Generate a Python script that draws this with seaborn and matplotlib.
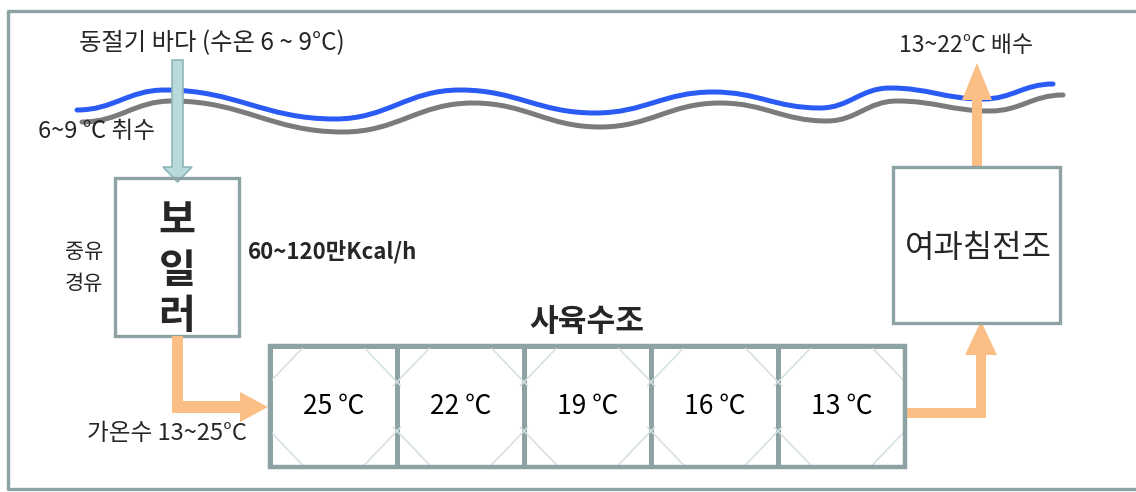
import numpy as np
import seaborn as sns
import matplotlib
matplotlib.use("Agg")
import matplotlib.pyplot as plt
from matplotlib.path import Path
from matplotlib.patches import PathPatch, Polygon, Rectangle
from matplotlib.colors import ListedColormap

# --- values ---
tank_temps = [25, 22, 19, 16, 13]
tank_title = "사육수조"
intake_text = "동절기 바다 (수온 6 ~ 9°C)"
intake_temp = "6~9 ℃ 취수"
fuel_labels = ["중유", "경유"]
boiler_chars = ["보", "일", "러"]
boiler_power = "60~120만Kcal/h"
heated_text = "가온수 13~25°C"
filter_text = "여과침전조"
outlet_text = "13~22°C 배수"

# wave extrema (pixel coords, y downward)
sea_x = [77, 165, 335, 460, 595, 713, 820, 890, 983, 1053]
sea_y = [110, 90, 119, 90, 113, 92, 108, 88, 99, 84]
shore_x = [82, 172, 343, 473, 600, 720, 827, 897, 990, 1063]
shore_y = [122, 101, 132, 103, 127, 103, 121, 101, 111, 95]

W, H = 1136, 492
FRAME = "#8da3a3"
ORANGE = "#fbbf86"
FONTS = ["Noto Sans CJK KR", "DejaVu Sans"]

sns.set_theme(style="white")
plt.rcParams["font.family"] = FONTS

fig = plt.figure(figsize=(W / 100, H / 100), dpi=100)
ax = fig.add_axes([0, 0, 1, 1])
ax.set_xlim(0, W)
ax.set_ylim(H, 0)
ax.axis("off")


def wave(xs, ys, color):
    verts = [(xs[0], ys[0])]
    codes = [Path.MOVETO]
    for i in range(1, len(xs)):
        d = (xs[i] - xs[i - 1]) * 0.42
        verts += [(xs[i - 1] + d, ys[i - 1]), (xs[i] - d, ys[i]), (xs[i], ys[i])]
        codes += [Path.CURVE4] * 3
    ax.add_patch(PathPatch(Path(verts, codes), fill=False, edgecolor=color,
                           lw=3.6, capstyle="round", zorder=2))


# outer frame (open on the right)
ax.plot([W, 8, 8, W], [11, 11, 489, 489], color=FRAME, lw=2.4, zorder=1)

wave(shore_x, shore_y, "#7b7b7b")
wave(sea_x, sea_y, "#2a5cf5")

# intake arrow
ax.add_patch(Polygon([(172, 60), (183, 60), (183, 167), (192, 167), (177.5, 182),
                      (163, 167), (172, 167)], closed=True, facecolor="#b9dadd",
                     edgecolor="#8fb5ba", lw=1.2, zorder=3))

# boiler box
ax.add_patch(Rectangle((115, 178), 124, 158, fill=False, edgecolor=FRAME, lw=2.4, zorder=3))
for ch, y in zip(boiler_chars, [221, 271, 316]):
    ax.text(177, y, ch, ha="center", va="center", fontsize=29, fontweight="bold", zorder=4)
for lab, y in zip(fuel_labels, [252, 284]):
    ax.text(84, y, lab, ha="center", va="center", fontsize=15, zorder=4)
ax.text(248, 252, boiler_power, ha="left", va="center", fontsize=16, fontweight="bold", zorder=4)

# orange arrows
ax.add_patch(Polygon([(172, 336), (183, 336), (183, 401), (240, 401), (240, 392), (268, 407),
                      (240, 422), (240, 413), (172, 413)], closed=True,
                     facecolor=ORANGE, edgecolor="none", zorder=3))
ax.add_patch(Polygon([(903, 408), (976, 408), (976, 355), (965, 355), (981, 321), (997, 355),
                      (986, 355), (986, 418), (903, 418)], closed=True,
                     facecolor=ORANGE, edgecolor="none", zorder=3))
ax.add_patch(Polygon([(972, 167), (972, 100), (962, 100), (977, 63), (992, 100), (982, 100),
                      (982, 167)], closed=True, facecolor=ORANGE, edgecolor="none", zorder=3))

# texts
ax.text(212, 43, intake_text, ha="center", va="center", fontsize=17.5, zorder=4)
ax.text(96, 132, intake_temp, ha="center", va="center", fontsize=17, zorder=4)
ax.text(167, 433, heated_text, ha="center", va="center", fontsize=17, zorder=4)
ax.text(966, 46, outlet_text, ha="center", va="center", fontsize=16.5, zorder=4)
ax.text(587, 322, tank_title, ha="center", va="center", fontsize=22.5, fontweight="bold", zorder=4)

# filter/settling tank
ax.add_patch(Rectangle((893, 167), 167, 156, fill=False, edgecolor=FRAME, lw=2.4, zorder=3))
ax.text(978, 248, filter_text, ha="center", va="center", fontsize=23, zorder=4)

# rearing tanks as a one-row heatmap
tx0, tx1, ty0, ty1 = 270, 905, 346, 467
tax = fig.add_axes([tx0 / W, 1 - ty1 / H, (tx1 - tx0) / W, (ty1 - ty0) / H])
tank_df = np.array([tank_temps])
labels = np.array([[f"{t} ℃" for t in tank_temps]])
sns.heatmap(tank_df, cmap=ListedColormap(["white"]), cbar=False, annot=labels, fmt="",
            linewidths=3.6, linecolor=FRAME, xticklabels=False, yticklabels=False,
            annot_kws={"fontsize": 19, "color": "black", "family": FONTS}, ax=tax)
for i in range(len(tank_temps)):
    for xs, ys in [([i - 0.03, i + 0.29], [0.33, -0.02]), ([i + 0.71, i + 1.03], [-0.02, 0.33]),
                   ([i - 0.03, i + 0.29], [0.67, 1.02]), ([i + 0.71, i + 1.03], [1.02, 0.67])]:
        tax.plot(xs, ys, color="#d3dfe1", lw=1.1, zorder=1)
tax.add_patch(Rectangle((0, 0), len(tank_temps), 1, fill=False, edgecolor=FRAME,
                        lw=3.2, clip_on=False, zorder=5))

fig.savefig("out.png", dpi=100)
